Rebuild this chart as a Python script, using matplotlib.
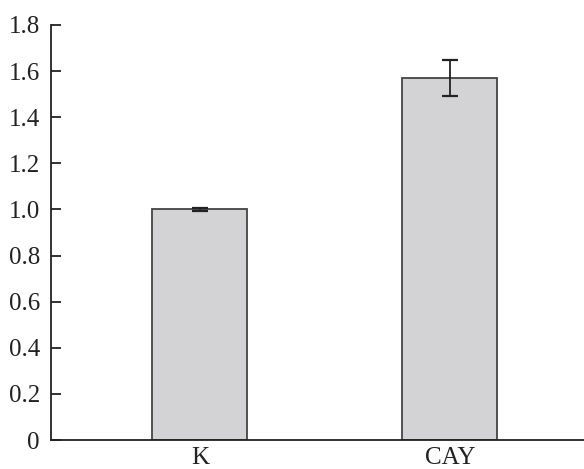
import numpy as np
import matplotlib
matplotlib.use('Agg')
import matplotlib.pyplot as plt

# data
groups = ['K', 'CAY']
values = [1.0, 1.57]
errors = [0.006, 0.08]
yticks = [0, 0.2, 0.4, 0.6, 0.8, 1.0, 1.2, 1.4, 1.6, 1.8]

plt.rcParams['font.family'] = ['Liberation Serif', 'DejaVu Serif']

fig = plt.figure(figsize=(5.84, 4.69), dpi=100)
ax = fig.add_axes([0.0873, 0.0618, 0.9127, 0.8849])

x = np.arange(len(groups))
ax.bar(x, values, width=0.38, color='#d3d3d5', edgecolor='#444444', linewidth=1.3)
ax.errorbar(x, values, yerr=errors, fmt='none', ecolor='#222222', elinewidth=1.3,
            capsize=6, capthick=1.6)

ax.set_xlim(-0.596, 1.536)
ax.set_ylim(0, 1.8)
ax.set_xticks(x)
ax.set_xticklabels(groups)
ax.set_yticks(yticks)
ax.set_yticklabels(['0'] + [f'{v:.1f}' for v in yticks[1:]])

ax.spines['top'].set_visible(False)
ax.spines['right'].set_visible(False)
for s in ['left', 'bottom']:
    ax.spines[s].set_linewidth(1.3)
    ax.spines[s].set_color('#222222')

ax.tick_params(axis='y', direction='in', length=7, width=1.3, labelsize=18, pad=8, colors='#222222')
ax.tick_params(axis='x', length=0, labelsize=18, pad=5, colors='#222222')

plt.savefig('out.png', dpi=100)
